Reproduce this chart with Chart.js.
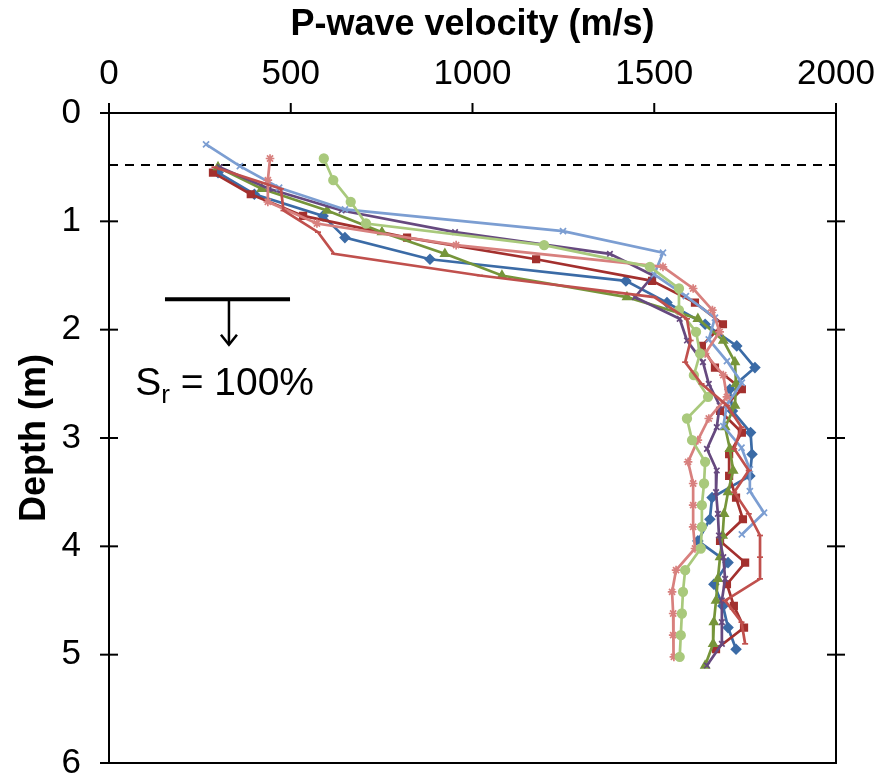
<!DOCTYPE html>
<html><head><meta charset="utf-8">
<script src="https://cdn.jsdelivr.net/npm/chart.js@4.4.0/dist/chart.umd.min.js"></script>
<style>html,body{margin:0;padding:0;background:#fff}#wrap{width:883px;height:775px}</style>
</head><body><div id="wrap"><canvas id="c" width="883" height="775"></canvas></div>
<script>
// ---- axis ticks ----
const xTickValues = [0, 500, 1000, 1500, 2000];
const yTickValues = [0, 1, 2, 3, 4, 5, 6];
const xTitle = 'P-wave velocity (m/s)';
const yTitle = 'Depth (m)';
const waterTableDepth = 0.48;

// ---- series (depth in m, velocity in m/s) ----
const depthA = [0.55,0.75,0.95,1.15,1.35,1.55,1.75,1.95,2.15,2.35,2.55,2.75,2.95,3.15,3.35,3.55,3.75,3.95,4.15,4.35,4.55,4.75,4.95];
const velA   = [300,400,589,649,883,1422,1535,1640,1727,1777,1708,1715,1765,1769,1763,1659,1653,1620,1703,1664,1689,1703,1725];

const depthB = [0.55,0.75,0.95,1.15,1.35,1.55,1.75,1.95,2.15,2.35,2.55,2.75,2.95,3.15,3.35,3.55,3.75,3.95,4.15,4.35,4.55,4.75,4.95];
const velB   = [286,390,534,820,1175,1494,1612,1689,1631,1667,1741,1681,1741,1706,1706,1725,1744,1681,1750,1700,1719,1747,1670];

const depthC = [0.5,0.7,0.9,1.1,1.3,1.5,1.7,1.9,2.1,2.3,2.5,2.7,2.9,3.1,3.3,3.5,3.7,3.9,4.1,4.3,4.5,4.7,4.9,5.1];
const velC   = [300,420,600,751,924,1081,1425,1620,1690,1722,1725,1722,1695,1708,1717,1703,1692,1688,1681,1675,1670,1664,1662,1640];

const depthD = [0.5,0.7,0.9,1.1,1.3,1.5,1.7,1.9,2.1,2.3,2.5,2.7,2.9,3.1,3.3,3.5,3.7,3.9,4.1,4.3,4.5,4.7,4.9,5.1];
const velD   = [305,440,640,952,1378,1497,1447,1570,1590,1634,1650,1680,1672,1645,1672,1670,1675,1678,1690,1695,1686,1686,1686,1645];

const depthE = [0.29,0.49,0.69,0.89,1.09,1.29,1.49,1.69,1.89,2.09,2.29,2.49,2.69,2.89,3.09,3.29,3.49,3.69,3.89];
const velE   = [267,360,468,649,1249,1524,1500,1587,1667,1650,1700,1741,1700,1690,1740,1763,1763,1802,1741];

const depthF = [0.42,0.62,0.82,1.02,1.22,1.42,1.62,1.82,2.02,2.22,2.42,2.62,2.82,3.02,3.22,3.42,3.62,3.82,4.02,4.22,4.42,4.62,4.82,5.02];
const velF   = [443,437,437,572,955,1524,1607,1660,1680,1640,1690,1700,1650,1620,1593,1607,1607,1607,1612,1560,1549,1552,1552,1554];

const depthG = [0.42,0.62,0.82,1.02,1.22,1.42,1.62,1.82,2.02,2.22,2.42,2.62,2.82,3.02,3.22,3.42,3.62,3.82,4.02,4.22,4.42,4.62,4.82,5.02];
const velG   = [591,617,665,707,1197,1488,1568,1568,1615,1626,1609,1648,1590,1604,1640,1637,1631,1631,1628,1585,1579,1576,1573,1570];

const depthH = [0.5,0.7,0.9,1.1,1.3,1.5,1.7,1.9,2.1,2.3,2.5,2.7,2.9,3.1,3.3,3.5,3.7,3.9,4.1,4.3,4.5,4.7,4.9];
const velH   = [290,473,480,575,619,1020,1500,1590,1600,1585,1630,1700,1740,1720,1760,1720,1760,1791,1791,1791,1695,1740,1750];

function pts(d, v) { return d.map((dd, i) => ({ x: v[i], y: dd })); }

function ds(d, v, color, style, r) {
  return {
    data: pts(d, v), borderColor: color, backgroundColor: color,
    borderWidth: 2.7, pointStyle: style, pointRadius: r, pointBorderWidth: 1.7,
    pointHoverRadius: r, showLine: true, fill: false, tension: 0
  };
}

const datasets = [
  ds(depthH, velH, '#C0504D', 'line', 3),
  ds(depthG, velG, '#A9C97C', 'circle', 4.3),
  ds(depthF, velF, '#D8807E', 'star', 4.3),
  ds(depthE, velE, '#7C9ED2', 'crossRot', 4.3),
  ds(depthD, velD, '#66497F', 'crossRot', 3.9),
  ds(depthC, velC, '#76953A', 'triangle', 4.6),
  ds(depthB, velB, '#A3302E', 'rect', 4.6),
  ds(depthA, velA, '#3B6BA6', 'rectRot', 4.6)
];

const FONT = "'Liberation Sans', Arial, sans-serif";

const overlay = {
  id: 'overlay',
  beforeDatasetsDraw(chart) {
    const ctx = chart.ctx, sy = chart.scales.y, a = chart.chartArea;
    ctx.save();
    ctx.strokeStyle = '#000'; ctx.lineWidth = 2; ctx.setLineDash([9, 7]);
    const yw = sy.getPixelForValue(waterTableDepth);
    ctx.beginPath(); ctx.moveTo(a.left, yw); ctx.lineTo(a.right, yw); ctx.stroke();
    ctx.restore();
  },
  afterDraw(chart) {
    const ctx = chart.ctx, sx = chart.scales.x, sy = chart.scales.y, a = chart.chartArea;
    ctx.save();
    ctx.strokeStyle = '#000'; ctx.lineWidth = 2;
    ctx.strokeRect(a.left, a.top, a.right - a.left, a.bottom - a.top);
    xTickValues.forEach(v => {
      const x = sx.getPixelForValue(v);
      ctx.beginPath(); ctx.moveTo(x, a.top - 10); ctx.lineTo(x, a.top); ctx.stroke();
    });
    yTickValues.forEach(v => {
      const y = sy.getPixelForValue(v);
      ctx.beginPath(); ctx.moveTo(a.left - 9, y); ctx.lineTo(a.left + 9, y); ctx.stroke();
      if (v > 0 && v < 6) { ctx.beginPath(); ctx.moveTo(a.right - 9, y); ctx.lineTo(a.right + 9, y); ctx.stroke(); }
    });
    // saturation marker
    const ySym = sy.getPixelForValue(1.72);
    const x1 = sx.getPixelForValue(154), x2 = sx.getPixelForValue(498), xa = sx.getPixelForValue(330);
    const yArrow = sy.getPixelForValue(2.14);
    ctx.lineWidth = 4;
    ctx.beginPath(); ctx.moveTo(x1, ySym); ctx.lineTo(x2, ySym); ctx.stroke();
    ctx.lineWidth = 2.5;
    ctx.beginPath(); ctx.moveTo(xa, ySym); ctx.lineTo(xa, yArrow); ctx.stroke();
    ctx.beginPath(); ctx.moveTo(xa - 8, yArrow - 10); ctx.lineTo(xa, yArrow); ctx.lineTo(xa + 8, yArrow - 10); ctx.stroke();
    // label S_r = 100%
    ctx.fillStyle = '#000';
    ctx.textBaseline = 'alphabetic'; ctx.textAlign = 'left';
    const tx = sx.getPixelForValue(72), ty = sy.getPixelForValue(2.6);
    ctx.font = '39px ' + FONT;
    ctx.fillText('S', tx, ty);
    const wS = ctx.measureText('S').width;
    ctx.font = '26px ' + FONT;
    ctx.fillText('r', tx + wS, ty + 8);
    const wr = ctx.measureText('r').width;
    ctx.font = '39px ' + FONT;
    ctx.fillText(' = 100%', tx + wS + wr, ty);
    ctx.restore();
  }
};

function fixSize(prop, val) {
  return s => { s[prop] = val; s.paddingTop = 0; s.paddingBottom = 0; s.paddingLeft = 0; s.paddingRight = 0; };
}

new Chart(document.getElementById('c'), {
  type: 'scatter',
  data: { datasets },
  options: {
    responsive: false, devicePixelRatio: 1, animation: false,
    layout: { padding: { top: 0, left: 0, right: 0, bottom: 12 } },
    plugins: { legend: { display: false }, tooltip: { enabled: false } },
    scales: {
      x: {
        type: 'linear', position: 'top', min: 0, max: 2000,
        afterBuildTicks: s => { s.ticks = xTickValues.map(v => ({ value: v })); },
        afterFit: fixSize('height', 113),
        grid: { display: false, drawTicks: false }, border: { display: false },
        ticks: { color: '#000', font: { size: 35, family: FONT }, padding: 18, maxRotation: 0, autoSkip: false, callback: v => String(v) },
        title: { display: true, text: xTitle, color: '#000', font: { size: 36, weight: 'bold', family: FONT }, padding: { top: 3, bottom: 0 } }
      },
      y: {
        type: 'linear', position: 'left', reverse: true, min: 0, max: 6,
        afterBuildTicks: s => { s.ticks = yTickValues.map(v => ({ value: v })); },
        afterFit: fixSize('width', 109),
        grid: { display: false, drawTicks: false }, border: { display: false },
        ticks: { color: '#000', font: { size: 35, family: FONT }, padding: 28, autoSkip: false, callback: v => String(v) },
        title: { display: true, text: yTitle, color: '#000', font: { size: 36, weight: 'bold', family: FONT }, padding: { top: 13, bottom: 0 } }
      },
      y2: {
        type: 'linear', position: 'right', reverse: true, min: 0, max: 6,
        afterFit: fixSize('width', 47),
        grid: { display: false, drawTicks: false }, border: { display: false },
        ticks: { display: false }
      }
    }
  },
  plugins: [overlay]
});
</script>
</body></html>
